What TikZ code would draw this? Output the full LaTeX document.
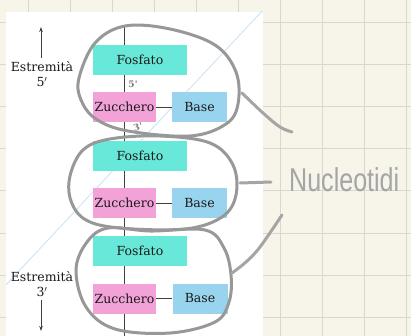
\documentclass[tikz,border=0pt]{standalone}
\usepackage{fontspec}
\newfontfamily\handfont{Liberation Sans}
\newfontfamily\figfont{DejaVu Serif}
\usetikzlibrary{arrows.meta}
\definecolor{cream}{RGB}{247,245,233}
\definecolor{gridc}{RGB}{218,216,204}
\definecolor{fosfc}{RGB}{104,232,216}
\definecolor{zucc}{RGB}{242,162,214}
\definecolor{basec}{RGB}{152,212,238}
\definecolor{loopgray}{RGB}{152,152,152}
\definecolor{handgray}{RGB}{165,165,165}
\definecolor{wmark}{RGB}{200,226,245}
\definecolor{inkc}{RGB}{25,25,25}
\definecolor{primegray}{RGB}{125,125,125}
\begin{document}
\begin{tikzpicture}[x=1pt,y=-1pt,
  boxbase/.style={draw=none, minimum height=30pt, inner sep=0pt, text=inkc,
    font=\figfont\fontsize{12.5}{14}\selectfont},
  fosf/.style={boxbase, fill=fosfc, minimum width=94pt},
  zuc/.style={boxbase, fill=zucc, minimum width=63pt},
  basebox/.style={boxbase, fill=basec, minimum width=55pt},
  label/.style={text=inkc, inner sep=0pt, align=center,
    font=\figfont\fontsize{12.5}{15}\selectfont},
  prime/.style={text=primegray, inner sep=0pt, font=\figfont\fontsize{9}{10}\selectfont\bfseries},
  loopline/.style={draw=loopgray, line width=3pt, line cap=round, line join=round},
  bond/.style={draw=black!75, line width=0.9pt},
  endarrow/.style={draw=black!75, line width=0.8pt, -{Stealth[length=5pt,width=3.5pt]}}
]
\useasboundingbox (0,0) rectangle (411,336);
\clip (0,0) rectangle (411,336);
% background paper with grid
\fill[cream] (0,0) rectangle (411,336);
\foreach \gx in {28,70,112,154,196,238,280,322,364,406}
  \draw[gridc, line width=1pt] (\gx,0) -- (\gx,336);
\foreach \gy in {23,65,107,149,191,233,275,317}
  \draw[gridc, line width=1pt] (0,\gy) -- (411,\gy);
% white figure panel
\fill[white] (6,12) rectangle (263,336);
\begin{scope}
  \clip (6,12) rectangle (263,336);
  \draw[wmark, line width=0.8pt] (265,8) -- (4,287);
\end{scope}
% backbone
\coordinate (top) at (124.5,27);
\coordinate (bot) at (124.5,336);
\draw[bond] (top) -- (bot);
% nucleotides
\node[fosf] (F1) at (140,60) {Fosfato};
\node[zuc] (Z1) at (124.5,107) {Zucchero};
\node[basebox] (B1) at (199.5,107) {Base};
\node[fosf] (F2) at (140,156) {Fosfato};
\node[zuc] (Z2) at (124.5,203) {Zucchero};
\node[basebox] (B2) at (199.5,203) {Base};
\node[fosf] (F3) at (140,251) {Fosfato};
\node[zuc] (Z3) at (124.5,298.5) {Zucchero};
\node[basebox] (B3) at (200,298.5) {Base};
\draw[bond] (Z1) -- (B1);
\draw[bond] (Z2) -- (B2);
\draw[bond] (Z3) -- (B3);
\node[prime] (p5) at (133,84) {5'};
\node[prime, rotate=15] (p3) at (138,127) {3'};
% ends
\node[label] (E5) at (42,74) {Estremità\\5$'$};
\coordinate (a5) at (41,27);
\draw[endarrow] (41,58) -- (a5);
\node[label] (E3) at (42,284) {Estremità\\3$'$};
\coordinate (a3) at (41,331);
\draw[endarrow] (41,300) -- (a3);
% hand-drawn loops
\draw[loopline] plot[smooth cycle, tension=0.6] coordinates {(79,78) (95,43) (125,26) (170,29) (215,45) (236,72) (238,104) (226,124) (190,136) (128,131) (96,119) (81,100)};
\draw[loopline] plot[smooth cycle, tension=0.6] coordinates {(70,176) (83,150) (110,139) (160,136) (210,143) (233,165) (236,195) (222,217) (185,229) (120,228) (86,220) (71,201)};
\draw[loopline] plot[smooth cycle, tension=0.6] coordinates {(76,270) (87,242) (108,228) (150,231) (205,230) (224,248) (231,275) (229,302) (215,322) (170,333) (115,329) (86,307)};
% pointers
\draw[loopline, draw=handgray] plot[smooth, tension=0.6] coordinates {(242,93) (263,113) (280,127) (292,132)};
\draw[loopline, draw=handgray] (240,183) -- (271,182);
\draw[loopline, draw=handgray] plot[smooth, tension=0.6] coordinates {(282,215) (260,247) (246,262) (232,273)};
\node[anchor=base west, inner sep=0pt, text=handgray, xscale=0.76,
  font=\handfont\fontsize{33}{36}\selectfont] (nuc) at (289,192) {Nucleotidi};
\end{tikzpicture}
\end{document}
